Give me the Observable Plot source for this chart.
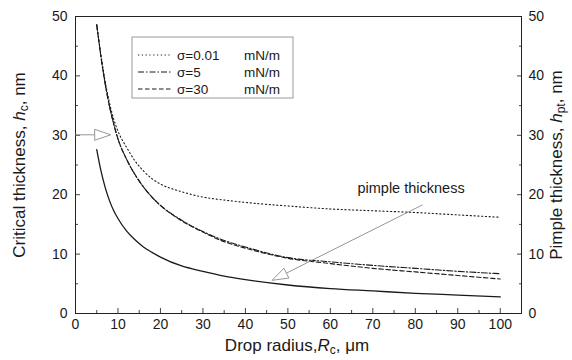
<!DOCTYPE html>
<html>
<head>
<meta charset="utf-8">
<script src="https://cdn.jsdelivr.net/npm/d3@7"></script>
<script src="https://cdn.jsdelivr.net/npm/@observablehq/plot@0.6"></script>
<style>
  html, body { margin: 0; padding: 0; background: white; }
  #chart { width: 572px; height: 360px; }
</style>
</head>
<body>
<div id="chart"></div>
<script>
// ---- Data ----
const radius = [5, 6, 7, 8, 9, 10, 12, 14, 16, 18, 20, 25, 30, 35, 40, 50, 60, 70, 80, 90, 100];
const hSigma001 = [48.6, 43.5, 39.0, 35.5, 32.7, 30.7, 28.0, 25.7, 24.0, 22.7, 21.8, 20.5, 19.6, 19.1, 18.7, 18.1, 17.6, 17.3, 17.0, 16.6, 16.2];
const hSigma5   = [48.6, 43.2, 38.6, 34.9, 31.9, 29.4, 26.0, 23.4, 21.3, 19.6, 18.2, 15.7, 13.8, 12.3, 11.2, 9.4, 8.7, 8.1, 7.6, 7.1, 6.7];
const hSigma30  = [48.6, 43.2, 38.6, 34.9, 31.9, 29.4, 26.0, 23.4, 21.3, 19.6, 18.2, 15.6, 13.7, 12.1, 11.0, 9.3, 8.4, 7.6, 7.0, 6.4, 5.8];
const hPimple   = [27.6, 24.0, 21.2, 19.0, 17.3, 16.0, 13.9, 12.4, 11.2, 10.3, 9.5, 8.0, 7.1, 6.3, 5.7, 4.8, 4.2, 3.8, 3.4, 3.1, 2.8];

const seriesNames = ["σ=0.01", "σ=5", "σ=30", "pimple"];
const legendLabels = ["σ=0.01", "σ=5", "σ=30"];
const legendUnit = "mN/m";

const xTicks = [0, 10, 20, 30, 40, 50, 60, 70, 80, 90, 100];
const xMinor = [5, 15, 25, 35, 45, 55, 65, 75, 85, 95];
const yTicks = [0, 10, 20, 30, 40, 50];
const yMinor = [5, 15, 25, 35, 45];

// annotation arrows (data coordinates: tail -> tip)
const arrowTail = [[0, 30], [81.8, 18.2]];
const arrowTip  = [[8.4, 30], [46.4, 5.5]];
const noteText = "pimple thickness";
const notePos = [79, 20.3];

// ---- Build table ----
const allSeries = [hSigma001, hSigma5, hSigma30, hPimple];
const table = [];
allSeries.forEach((vals, s) => vals.forEach((h, i) => table.push({series: seriesNames[s], R: radius[i], h})));

const styles = {
  "σ=0.01": {dash: "1.2,2.6", width: 1.1},
  "σ=5":    {dash: "6,2,1.5,2", width: 1.1},
  "σ=30":   {dash: "4.5,2.5", width: 1.1},
  "pimple": {dash: null, width: 1.3}
};

const font = "'Liberation Sans', Arial, Helvetica, sans-serif";
const ink = "#1a1a1a";

const lineMarks = seriesNames.map(name => Plot.line(table.filter(d => d.series === name), {
  x: "R", y: "h", curve: "monotone-x",
  stroke: ink, strokeWidth: styles[name].width,
  strokeDasharray: styles[name].dash
}));

const chart = Plot.plot({
  width: 572, height: 360,
  marginLeft: 75, marginRight: 51, marginTop: 16, marginBottom: 47,
  x: {domain: [0, 105]},
  y: {domain: [0, 50]},
  style: {fontFamily: font, fontSize: "14px", background: "white", color: ink, overflow: "visible"},
  marks: [
    Plot.axisX({ticks: xTicks, tickSize: -5, tickPadding: 11, label: null, stroke: "#444", fontSize: 14}),
    Plot.axisX({ticks: xMinor, tickSize: -3, tickFormat: () => "", label: null, stroke: "#444"}),
    Plot.axisY({ticks: yTicks, tickSize: -5, tickPadding: 13, label: null, anchor: "left", stroke: "#444", fontSize: 14}),
    Plot.axisY({ticks: yMinor, tickSize: -3, tickFormat: () => "", label: null, anchor: "left", stroke: "#444"}),
    Plot.axisY({ticks: yTicks, tickSize: -5, tickPadding: 12, label: null, anchor: "right", stroke: "#444", fontSize: 14}),
    Plot.axisY({ticks: yMinor, tickSize: -3, tickFormat: () => "", label: null, anchor: "right", stroke: "#444"}),
    ...lineMarks,
    Plot.text([noteText], {x: notePos[0], y: notePos[1], text: d => d, textAnchor: "middle", lineAnchor: "bottom", fontSize: 14.5, fill: ink}),
    Plot.frame({stroke: "#222", strokeWidth: 1})
  ]
});

document.getElementById("chart").appendChild(chart);

// ---- Post-processing: arrows, legend, axis titles ----
const sx = chart.scale("x"), sy = chart.scale("y");
const svg = d3.select(chart);

const ag = svg.append("g").attr("stroke", "#8a8a8a").attr("stroke-width", 0.9);
arrowTail.forEach((t, i) => {
  const x1 = sx.apply(t[0]), y1 = sy.apply(t[1]);
  const x2 = sx.apply(arrowTip[i][0]), y2 = sy.apply(arrowTip[i][1]);
  const ang = Math.atan2(y2 - y1, x2 - x1);
  const L = 16, W = 5.5;
  const bx = x2 - L * Math.cos(ang), by = y2 - L * Math.sin(ang);
  const px = -Math.sin(ang) * W, py = Math.cos(ang) * W;
  ag.append("line").attr("x1", x1).attr("y1", y1).attr("x2", bx).attr("y2", by);
  ag.append("path").attr("d", `M${x2},${y2}L${bx + px},${by + py}L${bx - px},${by - py}Z`)
    .attr("fill", "white");
});

// legend
const lg = svg.append("g").attr("font-family", font).attr("font-size", 13.5).attr("fill", ink)
  .attr("text-anchor", "start");
lg.append("rect").attr("x", 132).attr("y", 37).attr("width", 161).attr("height", 61)
  .attr("fill", "white").attr("stroke", "#999").attr("stroke-width", 1);
legendLabels.forEach((lab, i) => {
  const cy = 55 + i * 17;
  lg.append("line").attr("x1", 138).attr("x2", 172).attr("y1", cy).attr("y2", cy)
    .attr("stroke", ink).attr("stroke-width", 1).attr("stroke-dasharray", styles[lab].dash);
  lg.append("text").attr("x", 177).attr("y", cy + 5).attr("text-anchor", "start").text(lab);
  lg.append("text").attr("x", 244).attr("y", cy + 5).attr("text-anchor", "start").text(legendUnit);
});

// axis titles
function title(parts, x, y, rotate) {
  const t = svg.append("text").attr("font-family", font).attr("font-size", 17).attr("fill", ink)
    .attr("text-anchor", "middle")
    .attr("transform", `translate(${x},${y})` + (rotate ? " rotate(-90)" : ""));
  parts.forEach(p => {
    const s = t.append("tspan").text(p.t);
    if (p.i) s.attr("font-style", "italic");
    if (p.sub) s.attr("font-size", 12).attr("dy", 3);
    if (p.up) s.attr("dy", -3);
  });
}
title([{t: "Drop radius,"}, {t: "R", i: true}, {t: "c", sub: true}, {t: ", μm", up: true}], 297, 351, false);
title([{t: "Critical thickness, "}, {t: "h", i: true}, {t: "c", sub: true}, {t: ", nm", up: true}], 25, 165, true);
title([{t: "Pimple thickness, "}, {t: "h", i: true}, {t: "pt", sub: true}, {t: ", nm", up: true}], 562, 165, true);
</script>
</body>
</html>
